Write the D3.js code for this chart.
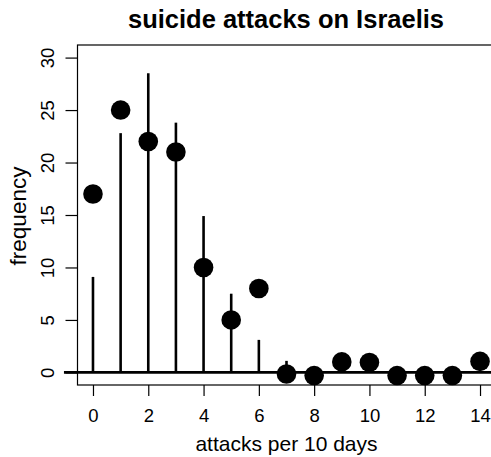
<!DOCTYPE html>
<html><head><meta charset="utf-8">
<script src="https://d3js.org/d3.v7.min.js"></script>
<style>body{margin:0;background:#fff}svg{display:block}text{font-family:"Liberation Sans",Arial,Helvetica,sans-serif;fill:#000}</style>
</head><body>
<script>
const attacks = [0,1,2,3,4,5,6,7,8,9,10,11,12,13,14];
const observed = [17,25,22,21,10,5,8,-0.15,-0.3,1.0,0.95,-0.3,-0.3,-0.3,1.05];
const expected = [9.1,22.8,28.5,23.8,14.9,7.5,3.1,1.1,0.35,0.1,0.02,0,0,0,0];
const xTicks = [0,2,4,6,8,10,12,14];
const yTicks = [0,5,10,15,20,25,30];
const title = "suicide attacks on Israelis";
const xLabel = "attacks per 10 days";
const yLabel = "frequency";

const W = 491, H = 457;
const FONT = '"Liberation Sans",Arial,sans-serif';
const svg = d3.select("body").append("svg").attr("width", W).attr("height", H);
const x = d3.scaleLinear().domain([-0.56, 14.56]).range([77.5, 495.5]);
const y = d3.scaleLinear().domain([-1.2, 31.2]).range([385, 45]);

// box
svg.append("rect").attr("x", x(-0.56)).attr("y", y(31.2))
  .attr("width", x(14.56) - x(-0.56)).attr("height", y(-1.2) - y(31.2))
  .attr("fill", "none").attr("stroke", "#000").attr("stroke-width", 1.2);

// x axis
const xAxis = d3.axisBottom(x).tickValues(xTicks).tickSize(11).tickFormat(d3.format("d"));
const gx = svg.append("g").attr("transform", `translate(0,${y(-1.2)})`).call(xAxis);
gx.select(".domain").remove();
gx.selectAll("line").attr("stroke", "#000").attr("stroke-width", 1.2);
gx.selectAll("text").attr("y", 36.8).attr("dy", null)
  .attr("font-size", 18.5).attr("font-family", FONT).attr("fill", "#000");

// y axis
const yAxis = d3.axisLeft(y).tickValues(yTicks).tickSize(12).tickFormat(d3.format("d"));
const gy = svg.append("g").attr("transform", `translate(${x(-0.56)},0)`).call(yAxis);
gy.select(".domain").remove();
gy.selectAll("line").attr("stroke", "#000").attr("stroke-width", 1.2);
gy.selectAll("text").remove();
gy.selectAll(".tick").append("text")
  .attr("transform", "translate(-24,0) rotate(-90)")
  .attr("text-anchor", "middle")
  .attr("font-size", 18.5).attr("font-family", FONT).attr("fill", "#000")
  .text(d => d);

// baseline
svg.append("line").attr("x1", x(-1.05)).attr("x2", x(15)).attr("y1", y(0)).attr("y2", y(0))
  .attr("stroke", "#000").attr("stroke-width", 2.6);

// expected spikes
svg.selectAll(".spike").data(attacks).enter().append("line").attr("class", "spike")
  .attr("x1", d => x(d)).attr("x2", d => x(d))
  .attr("y1", y(0)).attr("y2", (d, i) => y(expected[i]))
  .attr("stroke", "#000").attr("stroke-width", 2.6);

// observed points
svg.selectAll(".pt").data(attacks).enter().append("circle").attr("class", "pt")
  .attr("cx", d => x(d)).attr("cy", (d, i) => y(observed[i])).attr("r", 9.8).attr("fill", "#000");

// title and labels
svg.append("text").attr("x", 286).attr("y", 27.5)
  .attr("text-anchor", "middle").attr("font-size", 25.5).attr("font-weight", "bold").text(title);
svg.append("text").attr("x", 286.5).attr("y", 451)
  .attr("text-anchor", "middle").attr("font-size", 21).text(xLabel);
svg.append("text").attr("transform", `translate(25.5,216) rotate(-90)`)
  .attr("text-anchor", "middle").attr("font-size", 22.5).text(yLabel);
</script>
</body></html>
